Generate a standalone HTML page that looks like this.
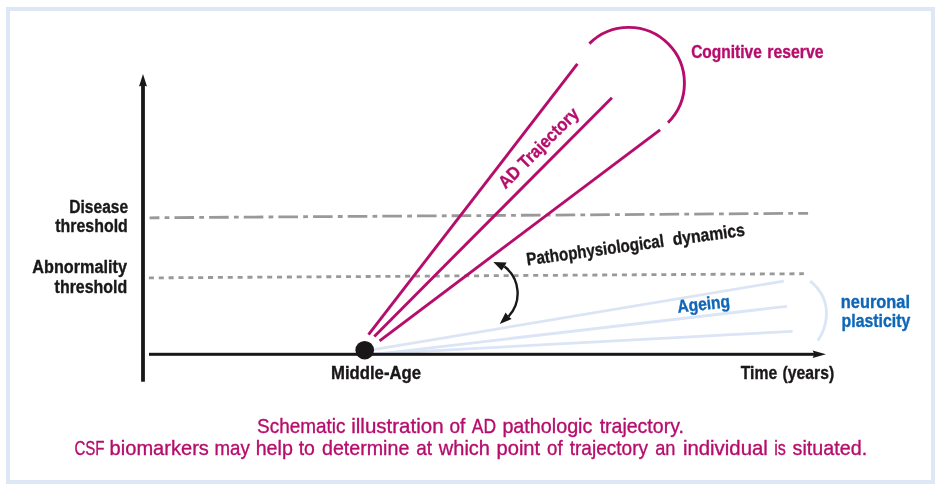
<!DOCTYPE html>
<html lang="en">
<head>
<meta charset="utf-8">
<title>Schematic illustration of AD pathologic trajectory</title>
<style>
  html, body { margin: 0; padding: 0; background: #ffffff; }
  body { width: 942px; height: 497px; overflow: hidden; }
  svg { display: block; }
  text { font-family: "Liberation Sans", sans-serif; }
  .b { font-weight: 700; font-size: 18px; stroke-width: 0.35px; paint-order: stroke; }
  .k { fill: #1a1718; stroke: #1a1718; }
  .m { fill: #b60c6c; stroke: #b60c6c; }
  .u { fill: #0d66b8; stroke: #0d66b8; }
  .cap { font-weight: 400; font-size: 20.6px; fill: #b60c6c; stroke: #b60c6c; stroke-width: 0.35px; }
</style>
</head>
<body>
<svg width="942" height="497" viewBox="0 0 942 497">
  <rect x="0" y="0" width="942" height="497" fill="#ffffff"/>
  <!-- frame -->
  <rect x="8" y="9" width="925" height="473" fill="none" stroke="#dee7f6" stroke-width="4"/>

  <!-- threshold lines -->
  <line x1="149.6" y1="217.8" x2="808.1" y2="213.3" stroke="#999999" stroke-width="2.8" stroke-dasharray="19.6 5.2 4.8 5.05" stroke-dashoffset="9.8"/>
  <line x1="148.9" y1="277.9" x2="803.9" y2="273.7" stroke="#999999" stroke-width="2.8" stroke-dasharray="5.05 4.804"/>

  <!-- ageing lines -->
  <g stroke="#dbe5f6" stroke-width="2.8" fill="none" stroke-linecap="butt">
    <line x1="366" y1="350.9" x2="783.8" y2="281.1"/>
    <line x1="366" y1="355.3" x2="787" y2="306.3"/>
    <line x1="366" y1="354.4" x2="792.6" y2="331.3"/>
    <path d="M810.2 281.2 C 821 290, 827 302, 826.4 315 C 826 325, 822.5 334, 817.9 340.6"/>
  </g>

  <!-- axes -->
  <rect x="141.1" y="85" width="3.8" height="296.7" fill="#1a1718"/>
  <path d="M143 74 L147 86.6 L143 85.2 L139 86.6 Z" fill="#1a1718"/>
  <rect x="149" y="352.8" width="666" height="3" fill="#1a1718"/>
  <path d="M826 354.3 L812.6 358 L814.4 354.3 L812.6 350.6 Z" fill="#1a1718"/>
  <circle cx="364.7" cy="350.2" r="9.3" fill="#1a1718"/>

  <!-- AD trajectory -->
  <g stroke="#b60c6c" stroke-width="2.9" fill="none">
    <line x1="368.5" y1="334.7" x2="577.4" y2="63.9"/>
    <line x1="374.3" y1="336.4" x2="611.9" y2="97.7"/>
    <line x1="379.6" y1="340.8" x2="660.1" y2="129.8"/>
    <path d="M589.4 43.6 A55.7 55.7 0 0 1 668 122.6"/>
  </g>

  <!-- curved double arrow -->
  <path d="M504.5 266.5 A34 34 0 0 1 508.5 316.5" fill="none" stroke="#1a1718" stroke-width="2.4"/>
  <path d="M493.3 262 L506.6 262.6 L504.4 266.6 L501.6 270.4 Z" fill="#1a1718"/>
  <path d="M499.7 323.9 L505.6 312.4 L508.6 316.4 L511.6 319 Z" fill="#1a1718"/>

  <!-- labels -->
  <text class="b m" transform="translate(505.5 189.5) rotate(-45)" x="0" y="0" textLength="105.5" lengthAdjust="spacingAndGlyphs">AD Trajectory</text>
  <text class="b k" transform="translate(527.3 265.4) rotate(-7.8)" y="0"><tspan x="0" textLength="138.6" lengthAdjust="spacingAndGlyphs">Pathophysiological</tspan> <tspan x="147.6" textLength="72.6" lengthAdjust="spacingAndGlyphs">dynamics</tspan></text>
  <text class="b u" transform="translate(678 312.7) rotate(-6)" x="0" y="0" textLength="52.8" lengthAdjust="spacingAndGlyphs">Ageing</text>

  <!-- caption -->
  <text class="b k" y="212.6"><tspan x="69.33" textLength="58.75" lengthAdjust="spacingAndGlyphs">Disease</tspan></text>
  <text class="b k" y="231.9"><tspan x="55.34" textLength="72.44" lengthAdjust="spacingAndGlyphs">threshold</tspan></text>
  <text class="b k" y="272.8"><tspan x="32.33" textLength="94.58" lengthAdjust="spacingAndGlyphs">Abnormality</tspan></text>
  <text class="b k" y="292.6"><tspan x="54.62" textLength="72.61" lengthAdjust="spacingAndGlyphs">threshold</tspan></text>
  <text class="b k" y="378.5"><tspan x="330.99" textLength="90.05" lengthAdjust="spacingAndGlyphs">Middle-Age</tspan></text>
  <text class="b k" y="378.5"><tspan x="740.71" textLength="36.42" lengthAdjust="spacingAndGlyphs">Time</tspan> <tspan x="782.61" textLength="51.53" lengthAdjust="spacingAndGlyphs">(years)</tspan></text>
  <text class="b m" y="58.4"><tspan x="691.18" textLength="70.67" lengthAdjust="spacingAndGlyphs">Cognitive</tspan> <tspan x="767.34" textLength="56.28" lengthAdjust="spacingAndGlyphs">reserve</tspan></text>
  <text class="b u" y="307.7"><tspan x="840.82" textLength="69.14" lengthAdjust="spacingAndGlyphs">neuronal</tspan></text>
  <text class="b u" y="326.8"><tspan x="841.57" textLength="68.70" lengthAdjust="spacingAndGlyphs">plasticity</tspan></text>
  <text class="cap" y="432.8"><tspan x="257.07" textLength="88.33" lengthAdjust="spacingAndGlyphs">Schematic</tspan> <tspan x="351.26" textLength="92.29" lengthAdjust="spacingAndGlyphs">illustration</tspan> <tspan x="449.43" textLength="15.87" lengthAdjust="spacingAndGlyphs">of</tspan> <tspan x="471.73" textLength="24.29" lengthAdjust="spacingAndGlyphs">AD</tspan> <tspan x="502.39" textLength="90.00" lengthAdjust="spacingAndGlyphs">pathologic</tspan> <tspan x="599.65" textLength="84.25" lengthAdjust="spacingAndGlyphs">trajectory.</tspan></text>
  <text class="cap" y="454.9"><tspan x="74.39" textLength="30.14" lengthAdjust="spacingAndGlyphs">CSF</tspan> <tspan x="109.60" textLength="99.30" lengthAdjust="spacingAndGlyphs">biomarkers</tspan> <tspan x="214.55" textLength="35.32" lengthAdjust="spacingAndGlyphs">may</tspan> <tspan x="255.69" textLength="37.15" lengthAdjust="spacingAndGlyphs">help</tspan> <tspan x="298.66" textLength="16.22" lengthAdjust="spacingAndGlyphs">to</tspan> <tspan x="321.96" textLength="87.36" lengthAdjust="spacingAndGlyphs">determine</tspan> <tspan x="416.14" textLength="15.84" lengthAdjust="spacingAndGlyphs">at</tspan> <tspan x="438.85" textLength="51.14" lengthAdjust="spacingAndGlyphs">which</tspan> <tspan x="496.48" textLength="43.71" lengthAdjust="spacingAndGlyphs">point</tspan> <tspan x="547.10" textLength="15.56" lengthAdjust="spacingAndGlyphs">of</tspan> <tspan x="569.70" textLength="78.36" lengthAdjust="spacingAndGlyphs">trajectory</tspan> <tspan x="655.18" textLength="20.25" lengthAdjust="spacingAndGlyphs">an</tspan> <tspan x="682.90" textLength="84.97" lengthAdjust="spacingAndGlyphs">individual</tspan> <tspan x="774.20" textLength="11.62" lengthAdjust="spacingAndGlyphs">is</tspan> <tspan x="792.60" textLength="74.54" lengthAdjust="spacingAndGlyphs">situated.</tspan></text>
</svg>
</body>
</html>
